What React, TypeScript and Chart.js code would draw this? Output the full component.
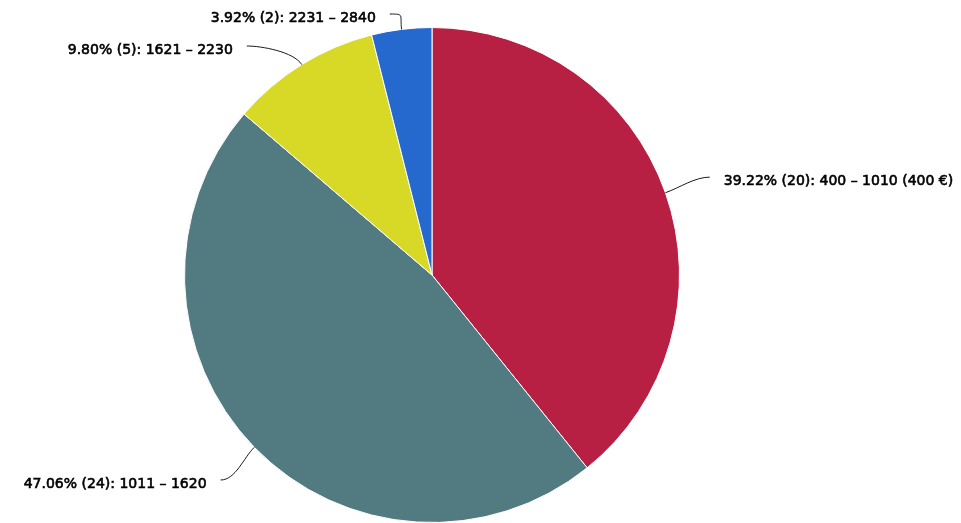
import React, { useEffect, useRef } from "react";
import { Chart, registerables } from "chart.js";

Chart.register(...registerables);

const categories = ["400 – 1010 (400 €)", "1011 – 1620", "1621 – 2230", "2231 – 2840"];
const counts = [20, 24, 5, 2];
const colors = ["#B72043", "#527B81", "#D8D927", "#2568CE"];

const FONT = "14px 'DejaVu Sans'";

const labelPlugin = {
  id: "sideLabels",
  afterDatasetsDraw(chart: any) {
    const ctx = chart.ctx;
    const meta = chart.getDatasetMeta(0);
    const total = counts.reduce((a, b) => a + b, 0);
    const items: any[] = [];
    meta.data.forEach((arc: any, i: number) => {
      const { x: cx, y: cy, startAngle, endAngle, outerRadius: r } = arc.getProps(
        ["x", "y", "startAngle", "endAngle", "outerRadius"],
        true
      );
      const a = (startAngle + endAngle) / 2;
      const dx = Math.cos(a);
      const dy = Math.sin(a);
      const R = r + 47;
      items.push({
        i, cx, cy, r, R, dx, dy,
        ax: cx + dx * r,
        ay: cy + dy * r,
        px: cx + dx * R,
        py: cy + dy * R,
        side: dx < 0 ? -1 : 1,
      });
    });
    const H = chart.height;
    for (const side of [-1, 1]) {
      const group = items.filter((it) => it.side === side).sort((p, q) => p.py - q.py);
      let prev = -Infinity;
      group.forEach((it) => {
        let y = Math.max(it.py, 14);
        let x = it.px;
        if (it.py < 14) x = it.px + side * 6;
        if (y < prev + 32) {
          y = prev + 32;
          const d = y - it.cy;
          if (Math.abs(d) < it.R) x = it.cx + side * Math.sqrt(it.R * it.R - d * d);
        }
        y = Math.min(y, H - 14);
        it.ex = x;
        it.ey = y;
        prev = y;
      });
    }
    ctx.save();
    ctx.font = FONT;
    ctx.textBaseline = "middle";
    items.forEach((it) => {
      ctx.beginPath();
      ctx.strokeStyle = "#1a1a1a";
      ctx.lineWidth = 1;
      ctx.moveTo(it.ax, it.ay);
      ctx.bezierCurveTo(
        it.ax + it.dx * 15,
        it.ay + it.dy * 15,
        it.ex - it.side * 15,
        it.ey,
        it.ex,
        it.ey
      );
      ctx.stroke();
      const pct = ((counts[it.i] / total) * 100).toFixed(2);
      const text = `${pct}% (${counts[it.i]}): ${categories[it.i]}`;
      ctx.fillStyle = "#000";
      ctx.strokeStyle = "#000";
      ctx.lineWidth = 0.6;
      ctx.textAlign = it.side < 0 ? "right" : "left";
      const tx = it.ex + it.side * 14;
      const ty = it.ey + 4;
      ctx.fillText(text, tx, ty);
      ctx.strokeText(text, tx, ty);
    });
    ctx.restore();
  },
};

export default function App() {
  const ref = useRef<HTMLCanvasElement | null>(null);
  useEffect(() => {
    document.body.style.margin = "0";
    const chart = new Chart(ref.current as HTMLCanvasElement, {
      type: "pie",
      data: {
        labels: categories,
        datasets: [
          {
            data: counts,
            backgroundColor: colors,
            borderColor: "#ffffff",
            borderWidth: 1,
          },
        ],
      },
      options: {
        responsive: false,
        animation: false,
        layout: { padding: { top: 27, bottom: 0, left: 0, right: 97 } },
        plugins: { legend: { display: false }, tooltip: { enabled: false } },
      },
      plugins: [labelPlugin],
    });
    return () => chart.destroy();
  }, []);
  return <canvas ref={ref} width={961} height={523} />;
}
